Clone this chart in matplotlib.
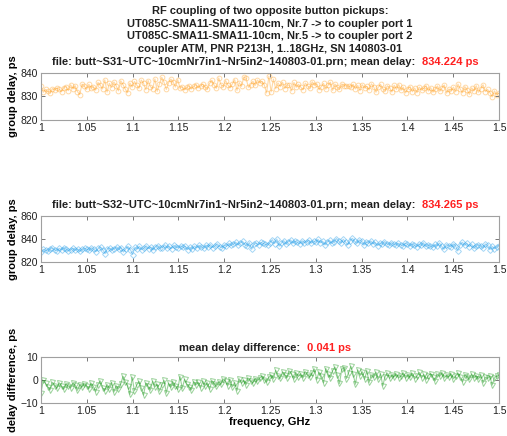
import numpy as np
import matplotlib
matplotlib.use('Agg')
import matplotlib.pyplot as plt

plt.rcParams['font.family'] = ['Liberation Sans', 'DejaVu Sans']

title_lines = ['RF coupling of two opposite button pickups:',
               'UT085C-SMA11-SMA11-10cm, Nr.7 -> to coupler port 1',
               'UT085C-SMA11-SMA11-10cm, Nr.5 -> to coupler port 2',
               'coupler ATM, PNR P213H, 1..18GHz, SN 140803-01']
file31 = 'file: butt~S31~UTC~10cmNr7in1~Nr5in2~140803-01.prn; mean delay:'
file32 = 'file: butt~S32~UTC~10cmNr7in1~Nr5in2~140803-01.prn; mean delay:'
mean31 = '834.224 ps'
mean32 = '834.265 ps'
mean_diff = '0.041 ps'

xticks = [1, 1.05, 1.1, 1.15, 1.2, 1.25, 1.3, 1.35, 1.4, 1.45, 1.5]
xticklabels = ['1', '1.05', '1.1', '1.15', '1.2', '1.25', '1.3', '1.35',
               '1.4', '1.45', '1.5']

# group delay S31, ps (1.0 .. 1.5 GHz)
s31 = [834.5, 831.8, 833.0, 832.2, 831.5, 833.4, 832.8, 833.6, 833.1, 832.0,
       833.8, 834.2, 832.5, 835.0, 833.2, 834.6, 832.1, 830.8, 835.3, 834.4,
       833.0,
       835.2, 833.6, 834.1, 832.7, 836.0, 834.8, 833.2, 837.1, 831.9, 835.6,
       833.8, 836.2, 834.5, 832.4, 836.7, 835.0, 833.1, 831.6, 835.8, 834.0,
       836.4, 834.9, 833.5, 837.0, 835.6, 832.9, 836.8, 834.2, 833.4, 837.5,
       832.2, 835.4, 838.2, 836.0, 833.0, 835.9, 837.4, 836.1, 834.0, 837.2,
       833.6, 834.1, 832.8, 833.9, 834.5, 833.2, 834.3, 835.0, 833.7, 834.6,
       835.3, 834.0, 833.1, 835.6, 836.9, 834.8, 833.5, 837.9, 835.0, 834.2,
       836.8, 834.9, 833.7, 835.4, 837.2, 832.6, 835.9, 834.3, 838.3, 837.8,
       833.9, 835.0, 836.5, 834.7, 837.0, 835.8, 836.4, 834.9, 831.5, 838.6,
       832.0, 837.4, 833.3, 835.8, 834.2, 836.1, 833.4, 835.0, 834.7, 832.4,
       836.0, 833.9, 835.2, 834.0, 832.9, 835.7, 834.5, 833.6, 836.3, 834.8,
       835.4, 832.9, 834.2, 835.6, 833.1, 834.8, 836.1, 832.6, 835.3, 834.0,
       833.0, 835.4, 834.6, 834.5, 834.4, 833.9, 835.2, 833.2, 834.7, 832.5,
       835.0, 833.6, 834.3, 832.8, 835.4, 834.1, 831.8, 833.9, 835.2, 833.3,
       832.4, 834.6, 833.7, 831.9, 834.8, 833.0, 835.1, 832.6, 834.0, 831.5,
       833.4, 834.2, 832.0, 833.6, 831.6, 834.0, 832.7, 833.5, 834.6, 832.3,
       833.8, 831.8, 833.0, 834.5, 832.2, 833.7, 834.9, 831.4, 833.2, 832.5,
       834.0, 832.0, 835.3, 833.1, 831.6, 834.2, 832.8, 830.9, 833.7, 832.4,
       834.6, 831.8, 833.3, 835.0, 832.1, 833.0, 831.7, 829.8, 832.4, 830.6,
       831.5]

# group delay S32, ps
s32 = [828.5, 831.0, 830.2, 829.4, 831.6, 832.3, 830.5, 829.8, 831.9, 830.4,
       832.6, 831.2, 829.6, 830.8, 832.0, 830.1, 831.4, 829.2, 830.9, 832.1,
       831.0,
       830.3, 832.4, 831.1, 829.0, 831.8, 833.0, 830.6, 827.2, 831.5, 832.2,
       830.4, 831.7, 833.2, 830.9, 832.5, 828.6, 831.3, 833.5, 830.8, 826.5,
       832.8, 831.4, 833.6, 830.7, 832.1, 834.0, 831.6, 832.9, 830.5, 833.4,
       834.3, 831.8, 832.6, 835.0, 832.2, 833.7, 831.5, 834.6, 833.0, 832.4,
       834.1, 832.7, 833.5, 830.8, 832.9, 831.4, 833.8, 832.2, 834.5, 833.1,
       831.9, 834.7, 833.3, 835.2, 832.6, 834.0, 835.8, 833.4, 832.5, 834.9,
       833.6, 836.2, 834.4, 835.5, 837.3, 834.8, 836.6, 838.0, 835.2, 833.9,
       836.8, 831.0, 835.7, 836.4, 834.9, 837.0, 836.1, 835.3, 834.6, 836.9,
       839.4, 836.0, 840.0, 833.7, 836.5, 838.6, 835.4, 837.8, 839.2, 836.3,
       838.1, 837.0, 835.9, 838.5, 836.8, 837.6, 839.0, 836.2, 838.3, 837.1,
       839.6, 836.7, 838.0, 834.8, 837.4, 838.9, 836.1, 837.7, 840.4, 838.2,
       836.5, 839.8, 837.3, 835.0, 838.6, 840.6, 837.9, 836.4, 839.2, 838.0,
       834.6, 837.5, 836.3, 838.4, 835.8, 837.0, 834.2, 836.6, 835.4, 837.8,
       836.0, 834.9, 836.9, 835.5, 834.7, 836.3, 835.1, 834.0, 836.4, 835.6,
       833.8, 835.9, 834.6, 833.2, 835.7, 834.4, 836.8, 833.5, 835.0, 834.1,
       832.7, 835.3, 834.0, 836.5, 833.6, 831.0, 835.2, 834.3, 833.4, 835.8,
       834.1, 829.6, 835.0, 837.2, 834.5, 836.3, 833.2, 835.6, 831.8, 833.9,
       835.1, 834.2, 832.0, 835.7, 834.4, 830.8, 833.6, 831.5, 832.9, 834.0]

# delay difference S32 - S31, ps
diff = [-5.5, -0.2, -1.5, -3.0, -4.2, -1.0, -2.4, -3.6, -1.2, -2.8,
        -4.0, -1.8, -2.6, -3.4, -1.5, -2.2, -4.5, -2.0, -3.1, -1.6,
        -2.5,
        -3.8, -1.4, -2.9, -5.0, -2.1, -0.4, -3.3, -4.6, -2.0, -3.7,
        -1.1, -5.2, -2.5, -3.9, -1.7, 1.6, -0.8, -2.4, -6.2, 1.2,
        -4.7, -2.2, -0.6, -3.5, -6.5, -1.3, -2.7, -4.4, -0.5, -3.0,
        -1.9, -4.8, -2.3, -0.2, -5.6, -1.4, -3.2, -0.9, -2.6, -4.1,
        1.5, -3.6, 0.3, -1.8, -2.9, -4.3, -0.7, -2.1, -1.0, -3.4,
        -0.5, -2.5, -1.2, -4.0, -0.3, -1.6, -2.8, -0.8, -1.9, 0.4,
        -0.6, -2.4, 0.2, -3.0, -1.1, -4.6, 0.5, -1.4, -0.2, -2.0,
        0.8, -0.5, -1.3, 0.6, -0.4, 0.9, 1.6, 0.2, -0.9, 1.2,
        2.0, 0.5, 4.2, 1.8, 0.7, 3.5, 2.3, 1.0, 3.9, 2.6,
        0.4, 3.1, 1.5, 2.8, 0.9, 3.6, 2.2, 1.3, 2.9, 4.8,
        0.2, 3.4, 1.7, -1.2, 5.0, 2.5, 1.0, 4.1, 5.6, 2.0,
        -1.5, 4.7, 5.3, 0.6, 3.2, 5.9, 2.4, -1.8, 4.4, 1.9,
        3.6, 0.3, 4.0, -1.0, 2.2, 1.1, 3.4, 0.4, 2.7, -2.5,
        1.5, 3.0, 0.7, 2.1, 1.4, 2.6, 0.9, 1.8, 3.1, 0.8,
        2.3, 1.2, 2.9, 0.6, 1.7, 3.3, 1.0, 2.4, 0.2, 1.9,
        2.8, 1.3, -0.4, 2.5, 1.6, 3.2, 0.9, 2.0, 1.4, 2.7,
        0.5, 1.8, 3.0, 1.1, -0.8, 2.2, 1.5, 0.3, 2.6, 1.0,
        1.9, 0.4, 2.3, -1.2, 1.2, 0.7, 1.6, -2.2, 0.9, 1.8,
        2.0]

W, H = 507, 436
fig = plt.figure(figsize=(W / 100, H / 100), dpi=100)

edge = '#a0a0a0'
fs_tick = 7.5
fs_lab = 8


def px_axes(left, top, right, bottom):
    return fig.add_axes([left / W, 1 - bottom / H, (right - left) / W,
                         (bottom - top) / H])


def style(ax, ylim, yticks, ylabel):
    ax.set_xlim(1, 1.5)
    ax.set_ylim(*ylim)
    ax.set_xticks(xticks)
    ax.set_xticklabels(xticklabels)
    ax.set_yticks(yticks)
    ax.tick_params(direction='in', top=True, right=True, length=3,
                   width=0.6, color='#606060', labelsize=fs_tick,
                   labelcolor='#202020', pad=2)
    for s in ax.spines.values():
        s.set_color(edge)
        s.set_linewidth(0.8)
    ax.set_ylabel(ylabel, fontsize=fs_lab, fontweight='bold', labelpad=2)


def split_title(y, black, red, xsplit):
    fig.text(xsplit / W, 1 - y / H, black, ha='right', va='center',
             fontsize=fs_lab, fontweight='bold', color='#202020')
    fig.text((xsplit + 7) / W, 1 - y / H, red, ha='left', va='center',
             fontsize=fs_lab, fontweight='bold', color='#ff2020')


# top panel
ax1 = px_axes(41, 73, 499, 120)
f31 = np.linspace(1.0, 1.5, len(s31))
ax1.plot(f31, s31, '-o', color='#ffa020', alpha=0.4, markersize=3.4,
         markerfacecolor='none', linewidth=0.8, markeredgewidth=0.7)
style(ax1, (820, 840), [820, 830, 840], 'group delay, ps')
for i, line in enumerate(title_lines):
    fig.text(270 / W, 1 - (11 + 12.7 * i) / H, line, ha='center',
             va='center', fontsize=fs_lab, fontweight='bold',
             color='#202020')
split_title(62, file31, mean31, 415)

# middle panel
ax2 = px_axes(41, 216, 499, 262)
f32 = np.linspace(1.0, 1.5, len(s32))
ax2.plot(f32, s32, '-D', color='#1e9be8', alpha=0.4, markersize=3,
         markerfacecolor='none', linewidth=0.8, markeredgewidth=0.7)
style(ax2, (820, 860), [820, 840, 860], 'group delay, ps')
split_title(205, file32, mean32, 415)

# bottom panel
ax3 = px_axes(41, 357, 499, 403)
fd = np.linspace(1.0, 1.5, len(diff))
ax3.plot(fd, diff, '-v', color='#1f9a1f', alpha=0.45, markersize=3.6,
         markerfacecolor='none', linewidth=0.8, markeredgewidth=0.7)
style(ax3, (-10, 10), [-10, 0, 10], 'delay difference, ps')
ax3.set_xlabel('frequency, GHz', fontsize=fs_lab, fontweight='bold',
               labelpad=1)
split_title(348, 'mean delay difference:', mean_diff, 300)

fig.savefig('out.png', dpi=100)
